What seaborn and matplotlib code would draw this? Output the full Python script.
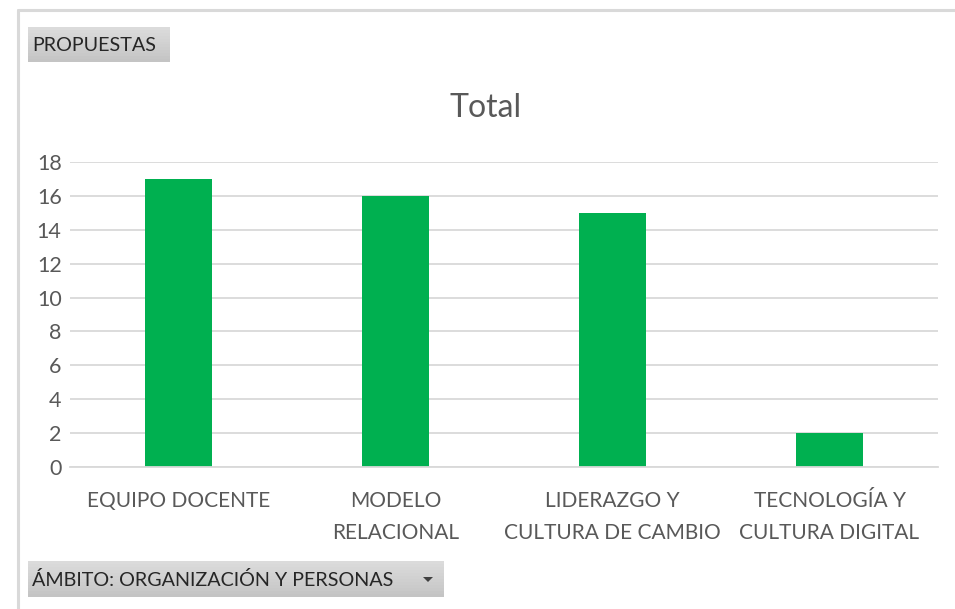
import matplotlib
matplotlib.use("Agg")
import matplotlib.pyplot as plt
from matplotlib.patches import Rectangle, Polygon
from matplotlib.lines import Line2D
import seaborn as sns
import pandas as pd

categories = ["EQUIPO DOCENTE", "MODELO\nRELACIONAL",
              "LIDERAZGO Y\nCULTURA DE CAMBIO", "TECNOLOGÍA Y\nCULTURA DIGITAL"]
totals = [17, 16, 15, 2]
y_ticks = [0, 2, 4, 6, 8, 10, 12, 14, 16, 18]

df = pd.DataFrame({"ambito": categories, "total": totals})

sns.set_theme(style="white")
plt.rcParams["font.family"] = ["Lato", "DejaVu Sans"]

W, H = 955, 609
fig = plt.figure(figsize=(W / 100, H / 100), dpi=100)

def fx(px):
    return px / W

def fy(py):
    return 1 - py / H

ax = fig.add_axes([fx(70), fy(467), fx(938) - fx(70), fy(162) - fy(467)])
sns.barplot(data=df, x="ambito", y="total", color="#00b050", saturation=1,
            width=0.31, ax=ax, edgecolor="none")
ax.set_ylim(0, 18)
ax.set_xlim(-0.5, 3.5)
ax.set_yticks(y_ticks)
ax.set_yticklabels([str(v) for v in y_ticks], fontsize=15.5, color="#595959")
ax.tick_params(axis="y", length=0, pad=6)
ax.tick_params(axis="x", length=0, pad=17, labelsize=15, labelcolor="#595959")
for lbl in ax.get_xticklabels():
    lbl.set_linespacing(1.75)
ax.set_xlabel("")
ax.set_ylabel("")
ax.grid(axis="y", color="#d9d9d9", linewidth=1.3)
ax.set_axisbelow(True)
for s in ["top", "right", "left"]:
    ax.spines[s].set_visible(False)
ax.spines["bottom"].set_color("#d9d9d9")
ax.spines["bottom"].set_linewidth(1.3)

fig.text(fx(486), fy(108), "Total", ha="center", va="center",
         fontsize=23, color="#595959")

# outer chart frame
fig.add_artist(Line2D([fx(18), 1], [fy(10), fy(10)], color="#d9d9d9", lw=2.2,
                      transform=fig.transFigure))
fig.add_artist(Line2D([fx(18), fx(18)], [fy(10), 0], color="#d9d9d9", lw=2.2,
                      transform=fig.transFigure))

def field_button(x0, y0, x1, y1, label, size, arrow=False):
    # gradient-looking field button: stacked bands from light to darker grey
    n = 12
    h = (y1 - y0) / n
    for i in range(n):
        t = i / (n - 1)
        c = 0.86 - 0.09 * t
        fig.add_artist(Rectangle((fx(x0), fy(y0 + (i + 1) * h)),
                                 fx(x1) - fx(x0), fy(y0 + i * h) - fy(y0 + (i + 1) * h),
                                 transform=fig.transFigure, facecolor=(c, c, c),
                                 edgecolor="none"))
    fig.text(fx(x0 + 4), fy((y0 + y1) / 2 + 1), label, ha="left", va="center",
             fontsize=size, color="#262626")
    if arrow:
        cx, cy = x1 - 16, (y0 + y1) / 2
        fig.add_artist(Polygon([(fx(cx - 5), fy(cy - 2)), (fx(cx + 5), fy(cy - 2)),
                                (fx(cx), fy(cy + 3))], closed=True,
                               transform=fig.transFigure, facecolor="#404040",
                               edgecolor="none"))

field_button(28, 27, 170, 62, "PROPUESTAS", 14.2)
field_button(28, 561, 444, 597, "ÁMBITO: ORGANIZACIÓN Y PERSONAS", 14.2, arrow=True)

fig.savefig("out.png", dpi=100, facecolor="white")
